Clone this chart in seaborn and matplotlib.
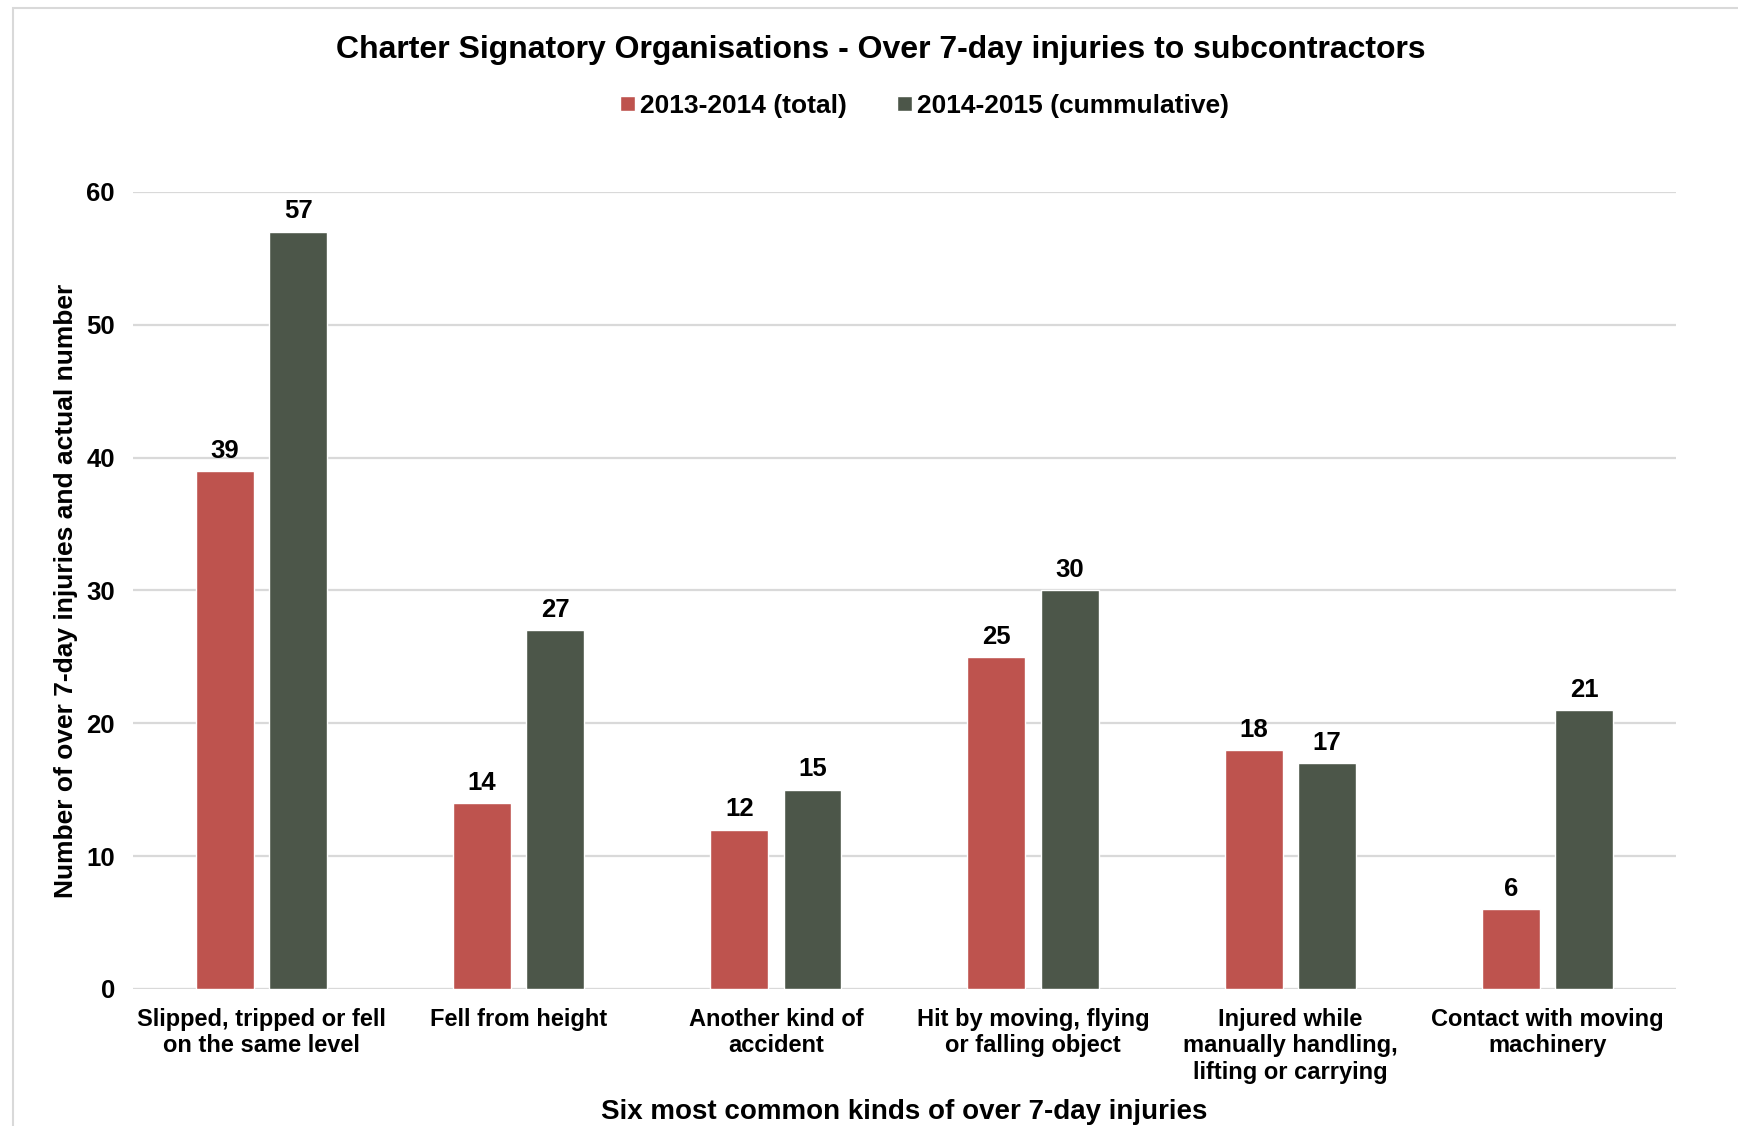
import numpy as np
import seaborn as sns
import matplotlib.pyplot as plt
import pandas as pd
from matplotlib.patches import Rectangle

sns.set_theme(style='white')
plt.rcParams['font.family'] = ['Liberation Sans', 'DejaVu Sans']
plt.rcParams['font.weight'] = 'bold'
plt.rcParams['text.color'] = 'black'
plt.rcParams['axes.labelcolor'] = 'black'
plt.rcParams['xtick.color'] = 'black'
plt.rcParams['ytick.color'] = 'black'

# data
kinds = ['Slipped, tripped or fell\non the same level', 'Fell from height',
         'Another kind of\naccident', 'Hit by moving, flying\nor falling object',
         'Injured while\nmanually handling,\nlifting or carrying',
         'Contact with moving\nmachinery']
series = ['2013-2014 (total)', '2014-2015 (cummulative)']
vals_1314 = [39, 14, 12, 25, 18, 6]
vals_1415 = [57, 27, 15, 30, 17, 21]
colors = ['#BE534E', '#4C5649']

df = pd.DataFrame({'Kind': kinds * 2,
                   'Year': [series[0]] * 6 + [series[1]] * 6,
                   'Count': vals_1314 + vals_1415})

fig = plt.figure(figsize=(17.38, 11.26), dpi=100)
ax = fig.add_axes([0.0765, 0.1217, 0.8878, 0.7078])

sns.barplot(x='Kind', y='Count', hue='Year', data=df, palette=colors,
            width=0.57, gap=0.21, saturation=1, ax=ax, legend=True)

for c in ax.containers:
    ax.bar_label(c, fmt='%d', padding=6, fontsize=18.5, fontweight='bold')

ax.set_ylim(0, 60)
ax.set_xlim(-0.5, 5.5)
ax.set_yticks(np.arange(0, 61, 10))
ax.yaxis.grid(True, color='#D9D9D9', linewidth=1.6)
ax.set_axisbelow(True)
for s in ax.spines.values():
    s.set_visible(False)
ax.axhline(0, color='#D9D9D9', linewidth=2.2, zorder=0)
ax.tick_params(axis='y', labelsize=18.5, pad=13, length=0)
ax.tick_params(axis='x', labelsize=17, pad=14, length=0)
for t in ax.get_xticklabels():
    t.set_fontweight('bold')
    t.set_linespacing(1.17)
for t in ax.get_yticklabels():
    t.set_fontweight('bold')
ax.set_xlabel('')
ax.set_ylabel('Number of over 7-day injuries and actual number', fontsize=19,
              fontweight='bold', labelpad=6)

handles, labels = ax.get_legend_handles_labels()
ax.legend_.remove()
fig.legend(handles, labels, loc='center', bbox_to_anchor=(0.532, 0.906), ncol=2,
           frameon=False, handlelength=0.55, handleheight=0.55,
           handletextpad=0.2, columnspacing=1.9, prop={'weight': 'bold', 'size': 19})

fig.text(0.507, 0.956, 'Charter Signatory Organisations - Over 7-day injuries to subcontractors',
         ha='center', va='center', fontsize=23, fontweight='bold')
fig.text(0.52, 0.012, 'Six most common kinds of over 7-day injuries',
         ha='center', va='center', fontsize=20, fontweight='bold')

fig.patches.append(Rectangle((13 / 1738, -0.1), 1.2, 1 - 8 / 1126 + 0.1,
                             transform=fig.transFigure, fill=False,
                             edgecolor='#D9D9D9', linewidth=1.5))

fig.savefig('out.png', dpi=100)
